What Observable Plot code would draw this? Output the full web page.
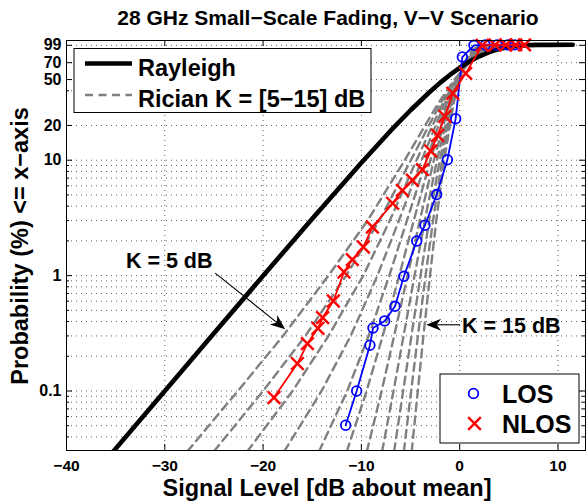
<!DOCTYPE html>
<html><head><meta charset="utf-8">
<script src="https://cdn.jsdelivr.net/npm/d3@7"></script>
<script src="https://cdn.jsdelivr.net/npm/@observablehq/plot@0.6"></script>
<style>
body{margin:0;background:#fff;}
#chart{width:587px;height:502px;}
</style></head><body><div id="chart"></div>
<script>
// ---------- data ----------
const titleText = "28 GHz Small\u2212Scale Fading, V\u2212V Scenario";
const xLabel = "Signal Level [dB about mean]";
const yLabel = "Probability (%) <= x\u2212axis";
const xTicks = [-40, -30, -20, -10, 0, 10];
const yTicks = [0.1, 1, 10, 20, 50, 70, 99];
const yMinor = [0.04, 0.05, 0.06, 0.07, 0.08, 0.09, 0.2, 0.3, 0.4, 0.5, 0.6, 0.7, 0.8, 0.9, 2, 3, 4, 5, 6, 7, 8, 9, 40];

// Rayleigh reference curve (dB, %)
const rayX = [-35.5, -35, -30, -25, -20, -15, -10, -7, -5, -3, -2, -1, 0, 1, 2, 3, 4, 5, 6, 7, 8, 9, 11.5];
const rayP = [0.0282, 0.0316, 0.0999, 0.316, 0.995, 3.11, 9.52, 18.1, 27.1, 39.4, 46.8, 54.8, 63.2, 71.6, 79.5, 86.4, 91.9, 95.8, 98.1, 99.3, 99.8, 99.96, 100];

// Rician curves, K = 5..15 dB: signal level (dB) at each probability level
const ricianK = [5, 6, 7, 8, 9, 10, 11, 12, 13, 14, 15];
const ricianP = [0.03, 0.1, 0.3, 1, 3, 10, 30, 50, 70, 90, 99, 99.9, 99.99];
const ricianX = [
  [-27.7, -22.57, -17.98, -13.35, -9.37, -5.59, -2.30, -0.54, 0.94, 2.73, 4.76, 6.01, 6.93],
  [-25.0, -20.0, -15.7, -11.55, -8.17, -4.97, -2.05, -0.45, 0.91, 2.58, 4.48, 5.66, 6.53],
  [-21.6, -17.0, -13.35, -9.81, -7.11, -4.39, -1.81, -0.38, 0.87, 2.41, 4.19, 5.30, 6.13],
  [-17.85, -14.05, -11.09, -8.37, -6.18, -3.87, -1.60, -0.31, 0.83, 2.25, 3.90, 4.95, 5.73],
  [-14.30, -11.44, -9.27, -7.16, -5.37, -3.40, -1.41, -0.25, 0.78, 2.08, 3.62, 4.60, 5.33],
  [-11.48, -9.47, -7.83, -6.15, -4.67, -2.99, -1.24, -0.20, 0.73, 1.92, 3.34, 4.26, 4.94],
  [-9.44, -7.94, -6.67, -5.30, -4.06, -2.63, -1.09, -0.16, 0.68, 1.77, 3.08, 3.93, 4.57],
  [-7.89, -6.73, -5.71, -4.59, -3.55, -2.31, -0.96, -0.13, 0.63, 1.62, 2.82, 3.61, 4.21],
  [-6.67, -5.75, -4.91, -3.98, -3.10, -2.03, -0.84, -0.11, 0.58, 1.47, 2.58, 3.31, 3.87],
  [-5.68, -4.94, -4.25, -3.47, -2.71, -1.79, -0.74, -0.08, 0.53, 1.34, 2.35, 3.03, 3.54],
  [-4.88, -4.26, -3.69, -3.02, -2.38, -1.57, -0.65, -0.07, 0.48, 1.22, 2.14, 2.76, 3.24]
];

// Measured LOS
const losX = [-11.6, -10.48, -9.13, -8.82, -7.63, -6.58, -5.67, -4.37, -3.53, -2.34, -1.25, -0.41, 0.27, 1.45, 2.6, 3.8, 4.9, 5.6];
const losP = [0.0505, 0.1, 0.249, 0.352, 0.405, 0.542, 0.986, 1.995, 2.73, 5.04, 10.1, 22.9, 78.4, 99.0, 99.5, 99.8, 99.9, 99.95];
// Measured NLOS
const nlosX = [-18.89, -16.51, -15.49, -14.42, -13.94, -12.85, -11.77, -10.92, -9.80, -8.88, -6.82, -5.83, -4.81, -3.79, -2.95, -2.24, -1.5, -0.7, 0.61, 2.3, 3.6, 4.7, 5.7, 6.6];
const nlosP = [0.0877, 0.1728, 0.2575, 0.3494, 0.4325, 0.6026, 1.075, 1.376, 1.769, 2.637, 4.23, 5.48, 6.70, 8.29, 12.0, 16.4, 24.0, 38.0, 56.6, 99.0, 99.6, 99.8, 99.9, 99.95];

// Annotations (dB, %)
const annoLabels = ["K = 5 dB", "K = 15 dB"];
const annoTextX = [-29.5, 5.3];
const annoTextP = [1.15, 0.316];
const annoFromX = [-24.82, 0.1];
const annoFromP = [1.04, 0.371];
const annoToX = [-17.7, -3.36];
const annoToP = [0.340, 0.371];

const legend1Labels = ["Rayleigh", "Rician K = [5\u221215] dB"];
const legend2Labels = ["LOS", "NLOS"];

// ---------- tables ----------
const rayleigh = rayX.map((x, i) => ({x, p: rayP[i]}));
const rician = ricianK.flatMap((k, i) => ricianX[i].map((x, j) => ({k, x, p: ricianP[j]})));
const los = losX.map((x, i) => ({x, p: losP[i]}));
const nlos = nlosX.map((x, i) => ({x, p: nlosP[i]}));

const FONT = '"Liberation Sans", Arial, Helvetica, sans-serif';
const W = 587, H = 502, mL = 66, mR = 2, mT = 40, mB = 52;
const iw = W - mL - mR, ih = H - mT - mB;
const BLUE = "#0000ff", RED = "#ff0000", GRAY = "#808080";
const grid = {stroke: "#000", strokeWidth: 0.9, strokeDasharray: "1,4", strokeOpacity: 0.7};

const plot = Plot.plot({
  width: W, height: H,
  marginLeft: mL, marginRight: mR, marginTop: mT, marginBottom: mB,
  style: {fontFamily: FONT, fontWeight: "bold", fontSize: "16px", background: "white", color: "black"},
  x: {domain: [-40, 12.8], axis: null},
  y: {type: "log", domain: [0.0305, 109], axis: null},
  marks: [
    Plot.ruleX(xTicks.slice(1), grid),
    Plot.ruleY(yTicks.concat(yMinor), grid),
    Plot.line(rician, {x: "x", y: "p", z: "k", stroke: GRAY, strokeWidth: 2.4, strokeDasharray: "8,5.5", clip: true}),
    Plot.line(rayleigh, {x: "x", y: "p", stroke: "black", strokeWidth: 4.6, clip: true}),
    Plot.line(los, {x: "x", y: "p", stroke: BLUE, strokeWidth: 1.8}),
    Plot.dot(los, {x: "x", y: "p", r: 4.8, stroke: BLUE, strokeWidth: 1.8, fill: "none"}),
    Plot.line(nlos, {x: "x", y: "p", stroke: RED, strokeWidth: 1.8}),
    Plot.dot(nlos, {x: "x", y: "p", symbol: "times", r: 5.8, stroke: RED, strokeWidth: 2.4}),
    Plot.tickX(xTicks, {x: d => d, insetTop: ih - 6, stroke: "black"}),
    Plot.tickX(xTicks, {x: d => d, insetBottom: ih - 6, stroke: "black"}),
    Plot.tickY(yTicks, {y: d => d, insetRight: iw - 6, stroke: "black"}),
    Plot.tickY(yTicks, {y: d => d, insetLeft: iw - 6, stroke: "black"}),
    Plot.tickY(yMinor, {y: d => d, insetRight: iw - 3, stroke: "black"}),
    Plot.tickY(yMinor, {y: d => d, insetLeft: iw - 3, stroke: "black"}),
    Plot.text(xTicks, {x: d => d, text: d => (d < 0 ? "\u2212" + Math.abs(d) : String(d)), frameAnchor: "bottom", lineAnchor: "top", dy: 9, fontSize: 15.5, fontWeight: "bold", fill: "black"}),
    Plot.text(yTicks, {y: d => d, text: d => String(d), frameAnchor: "left", textAnchor: "end", dx: -5, fontSize: 16, fontWeight: "bold", fill: "black"}),
    Plot.frame({stroke: "black", strokeWidth: 1})
  ]
});
document.getElementById("chart").appendChild(plot);

const sx = plot.scale("x"), sy = plot.scale("y");
const svg = d3.select(plot);
const g = svg.append("g").attr("font-family", FONT).attr("font-weight", "bold").attr("fill", "black").attr("text-anchor", "start");

// title & axis labels
g.append("text").attr("x", 328).attr("y", 24.5).attr("text-anchor", "middle").attr("font-size", 21).text(titleText);
g.append("text").attr("x", 327).attr("y", 496).attr("text-anchor", "middle").attr("font-size", 23.5).text(xLabel);
g.append("text").attr("transform", "translate(28,246) rotate(-90)").attr("text-anchor", "middle").attr("font-size", 23.5).text(yLabel);

// annotations
function arrow(x1, y1, x2, y2) {
  const len = 15, half = 6, notch = 4.5;
  const a = Math.atan2(y2 - y1, x2 - x1), ux = Math.cos(a), uy = Math.sin(a), nx = -uy, ny = ux;
  const bx = x2 - ux * len, by = y2 - uy * len;
  const mx = x2 - ux * (len - notch), my = y2 - uy * (len - notch);
  g.append("line").attr("x1", x1).attr("y1", y1).attr("x2", mx).attr("y2", my).attr("stroke", "black").attr("stroke-width", 1.1);
  g.append("path").attr("d", `M${x2},${y2}L${bx + nx * half},${by + ny * half}L${mx},${my}L${bx - nx * half},${by - ny * half}Z`).attr("fill", "black");
}
annoLabels.forEach((t, i) => {
  g.append("text").attr("x", sx.apply(annoTextX[i])).attr("y", sy.apply(annoTextP[i])).attr("text-anchor", "middle").attr("font-size", 21.5).text(t);
  arrow(sx.apply(annoFromX[i]), sy.apply(annoFromP[i]), sx.apply(annoToX[i]), sy.apply(annoToP[i]));
});

// legend 1
const l1 = g.append("g");
l1.append("rect").attr("x", 74).attr("y", 48.5).attr("width", 297).attr("height", 64).attr("fill", "white").attr("stroke", "black").attr("stroke-width", 1);
l1.append("line").attr("x1", 85).attr("x2", 132).attr("y1", 63.5).attr("y2", 63.5).attr("stroke", "black").attr("stroke-width", 4.6);
l1.append("line").attr("x1", 85).attr("x2", 132).attr("y1", 95).attr("y2", 95).attr("stroke", GRAY).attr("stroke-width", 2.4).attr("stroke-dasharray", "8,5.5");
l1.append("text").attr("x", 138).attr("y", 75.5).attr("text-anchor", "start").attr("font-size", 23.5).text(legend1Labels[0]);
l1.append("text").attr("x", 138).attr("y", 106.5).attr("text-anchor", "start").attr("font-size", 23.5).text(legend1Labels[1]);

// legend 2
const l2 = g.append("g");
l2.append("rect").attr("x", 440).attr("y", 374).attr("width", 139).attr("height", 69).attr("fill", "white").attr("stroke", "black").attr("stroke-width", 1);
l2.append("circle").attr("cx", 473.5).attr("cy", 393.5).attr("r", 4.8).attr("fill", "none").attr("stroke", BLUE).attr("stroke-width", 1.8);
l2.append("path").attr("d", d3.symbol(d3.symbolTimes, Math.PI * 5.8 * 5.8)()).attr("transform", "translate(474.5,423.5)").attr("fill", "none").attr("stroke", RED).attr("stroke-width", 2.4);
l2.append("text").attr("x", 502).attr("y", 402.5).attr("text-anchor", "start").attr("font-size", 25).text(legend2Labels[0]);
l2.append("text").attr("x", 502).attr("y", 433).attr("text-anchor", "start").attr("font-size", 25).text(legend2Labels[1]);
</script>
</body></html>
